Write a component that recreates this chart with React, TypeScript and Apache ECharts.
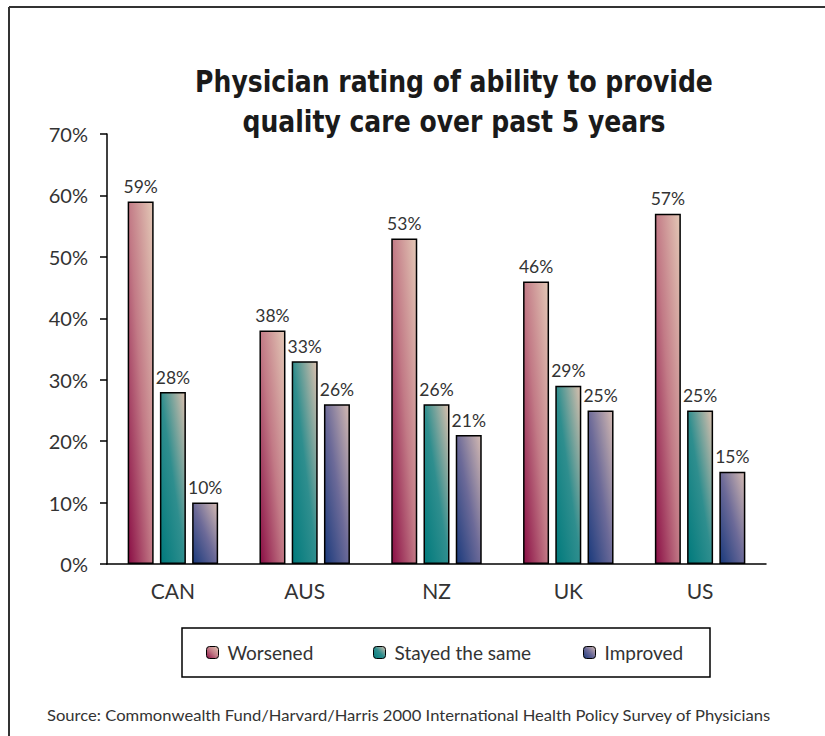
import React, { useEffect, useRef } from "react";
import * as echarts from "echarts";

const categories = ["CAN", "AUS", "NZ", "UK", "US"];
const worsened = [59, 38, 53, 46, 57];
const stayedSame = [28, 33, 26, 29, 25];
const improved = [10, 26, 21, 25, 15];
const seriesNames = ["Worsened", "Stayed the same", "Improved"];
const titleText = "Physician rating of ability to provide\nquality care over past 5 years";
const sourceText = "Source: Commonwealth Fund/Harvard/Harris 2000 International Health Policy Survey of Physicians";

const grad = (dark: string, mid: string, light: string) =>
  new echarts.graphic.LinearGradient(0, 1, 1, 0, [
    { offset: 0, color: dark },
    { offset: 0.5, color: mid },
    { offset: 1, color: light },
  ]);

const FONT = "Lato, 'Open Sans', sans-serif";

export default function App() {
  const ref = useRef<HTMLDivElement>(null);
  useEffect(() => {
    if (!ref.current) return;
    const chart = echarts.init(ref.current, null, { renderer: "svg" });
    const colors = [
      grad("#8a0e45", "#c27a86", "#e3c8b6"),
      grad("#007a7c", "#2f8e8e", "#dcc0ae"),
      grad("#1a3a7c", "#6c6a98", "#d4bab2"),
    ];
    const data = [worsened, stayedSame, improved];
    const legendLefts = [206, 373, 583];
    chart.setOption({
      animation: false,
      backgroundColor: "#fff",
      textStyle: { fontFamily: FONT },
      graphic: [
        { type: "line", shape: { x1: 9, y1: 7, x2: 825, y2: 7 }, style: { stroke: "#333", lineWidth: 2 } },
        { type: "line", shape: { x1: 9, y1: 7, x2: 9, y2: 736 }, style: { stroke: "#333", lineWidth: 2 } },
        { type: "rect", shape: { x: 182, y: 628, width: 528, height: 49 }, style: { fill: "none", stroke: "#000", lineWidth: 1.5 } },
        {
          type: "text",
          x: 454,
          y: 61,
          scaleX: 0.9,
          style: {
            text: titleText,
            fontFamily: "'DejaVu Sans Condensed', 'DejaVu Sans', sans-serif",
            fontWeight: "bold",
            fontSize: 31,
            lineHeight: 40,
            align: "center",
            fill: "#1a1a1a",
          },
        },
        {
          type: "text",
          x: 47,
          y: 715,
          scaleX: 1.145,
          style: { text: sourceText, fontFamily: FONT, fontSize: 14.5, fill: "#333", verticalAlign: "middle" },
        },
      ],
      legend: seriesNames.map((n, i) => ({
        data: [n],
        left: legendLefts[i],
        top: 643,
        itemWidth: 12,
        itemHeight: 12,
        padding: 0,
        textStyle: { fontSize: 19, color: "#333", fontFamily: FONT, padding: [0, 0, 0, 4] },
        itemStyle: { borderColor: "#000", borderWidth: 1 },
      })),
      grid: { left: 107, right: 59, top: 134, bottom: 172 },
      xAxis: {
        type: "category",
        data: categories,
        axisLine: { lineStyle: { color: "#000", width: 1.5 } },
        axisTick: { length: 7, lineStyle: { color: "#000", width: 1.5 } },
        axisLabel: { fontSize: 21, color: "#333", margin: 16, fontFamily: FONT },
      },
      yAxis: {
        type: "value",
        min: 0,
        max: 70,
        interval: 10,
        splitLine: { show: false },
        axisLine: { show: true, lineStyle: { color: "#000", width: 1.5 } },
        axisTick: { show: true, length: 7, lineStyle: { color: "#000", width: 1.5 } },
        axisLabel: { fontSize: 20, color: "#333", margin: 19, formatter: "{value}%", fontFamily: FONT },
      },
      series: seriesNames.map((n, i) => ({
        name: n,
        type: "bar",
        data: data[i],
        barWidth: 26,
        barGap: "24%",
        itemStyle: { color: colors[i], borderColor: "#000", borderWidth: 1.5 },
        label: {
          show: true,
          position: "top",
          distance: 6,
          formatter: "{c}%",
          fontSize: 17.5,
          color: "#333",
          fontFamily: FONT,
        },
      })),
    });
    return () => chart.dispose();
  }, []);
  return (
    <div
      ref={ref}
      style={{ position: "absolute", left: 0, top: 0, width: 825, height: 736 }}
    />
  );
}
